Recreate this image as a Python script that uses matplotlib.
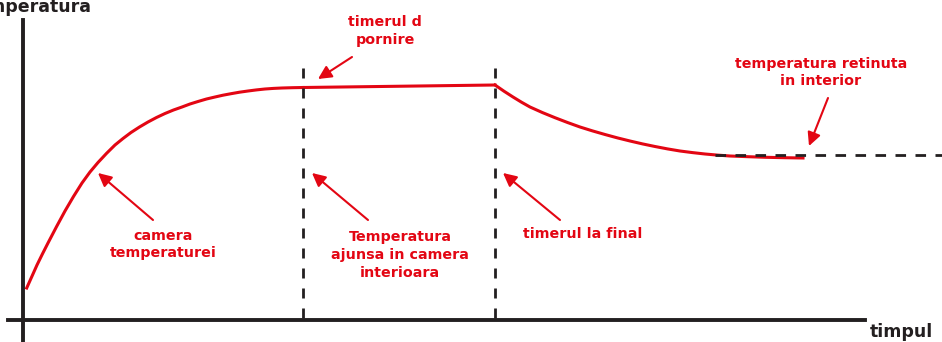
import matplotlib
matplotlib.use("Agg")
import matplotlib.pyplot as plt

# ==========================================
# DATA (time / temperature in arbitrary units)
# ==========================================
RED = "#e30613"
DARK = "#231f20"

# heating phase up to the start timer
t_rise = [3.7, 9, 14, 19.5, 25, 33.5, 42, 50.5, 59, 67, 75, 83.5, 92, 100, 108, 116.5, 125,
          133.5, 142, 150.5, 159, 167, 175, 183.5, 192, 200, 208, 216.5, 225, 233.5, 242,
          250.5, 259, 269.5, 280]
T_rise = [32, 43.8, 55, 66.2, 77, 93.3, 109, 123.5, 137, 148, 157.5, 166.6, 175, 181.5, 187.5,
          193, 198, 202.5, 206.5, 210, 213, 216, 218.5, 221, 223, 224.8, 226.3, 227.8, 229,
          230.1, 231, 231.6, 232, 232.3, 232.5]

# holding phase between the two timers
t_hold = [280, 472]
T_hold = [232.5, 235]

# cooling phase after the end timer
t_cool = [472, 481, 490, 498.5, 507, 519.5, 532, 544.5, 557, 569.5, 582, 594.5, 607, 619.5,
          632, 644.5, 657, 669.5, 682, 694.5, 707, 725, 743, 761.5, 780]
T_cool = [235, 228.8, 223, 217.8, 213, 207.4, 202.3, 197.5, 193, 189.1, 185.5, 182.1, 179,
          176.1, 173.5, 171.1, 169, 167.4, 166, 164.9, 164, 163.3, 162.7, 162.3, 162]

t_timer_start = 280
t_timer_end = 472
T_retained = 165

labels = [
    ("timerul d\npornire", (362, 289), (329, 263), (295, 241)),
    ("temperatura retinuta\nin interior", (798, 247.5), (805, 222), (786, 174)),
    ("camera\ntemperaturei", (140, 75.5), (130, 100), (75, 147)),
    ("Temperatura\najunsa in camera\ninterioara", (377, 65), (345, 100), (289, 147)),
    ("timerul la final", (560, 86), (537, 100), (480, 147)),
]

# ==========================================
# PLOT
# ==========================================
fig = plt.figure(figsize=(9.42, 3.42), dpi=100)
ax = fig.add_axes([0, 0, 1, 1])
ax.set_xlim(-23, 919)
ax.set_ylim(-22, 320)

for s in ["top", "right"]:
    ax.spines[s].set_visible(False)
ax.spines["left"].set_position(("data", 0))
ax.spines["bottom"].set_position(("data", 0))
ax.spines["left"].set_bounds(-22, 300)
ax.spines["bottom"].set_bounds(-15, 842)
for s in ["left", "bottom"]:
    ax.spines[s].set_linewidth(2.8)
    ax.spines[s].set_color(DARK)
ax.set_xticks([])
ax.set_yticks([])
ax.patch.set_visible(False)

# temperature curve
ax.plot(t_rise, T_rise, color=RED, lw=2.2, solid_joinstyle="round")
ax.plot(t_hold, T_hold, color=RED, lw=2.2)
ax.plot(t_cool, T_cool, color=RED, lw=2.2, solid_joinstyle="round")

# timers and retained temperature
for t in (t_timer_start, t_timer_end):
    ax.plot([t, t], [2, 262], color=DARK, lw=2.0, dashes=(3.6, 3.6))
ax.plot([692, 919], [T_retained, T_retained], color=DARK, lw=2.0, dashes=(3.8, 3.4))

# annotations
for text, pos, tail, tip in labels:
    ax.text(pos[0], pos[1], text, color=RED, fontsize=10.3, fontweight="bold",
            ha="center", va="center", linespacing=1.32)
    ax.annotate("", xy=tip, xytext=tail,
                arrowprops=dict(arrowstyle="-|>", color=RED, lw=1.5,
                                mutation_scale=20, shrinkA=0, shrinkB=0))

ax.text(69, 308, "temperatura", color=DARK, fontsize=12.5, fontweight="bold",
        ha="right", va="baseline")
ax.text(847, -17, "timpul", color=DARK, fontsize=12.5, fontweight="bold",
        ha="left", va="baseline")

fig.savefig("out.png", dpi=100)
